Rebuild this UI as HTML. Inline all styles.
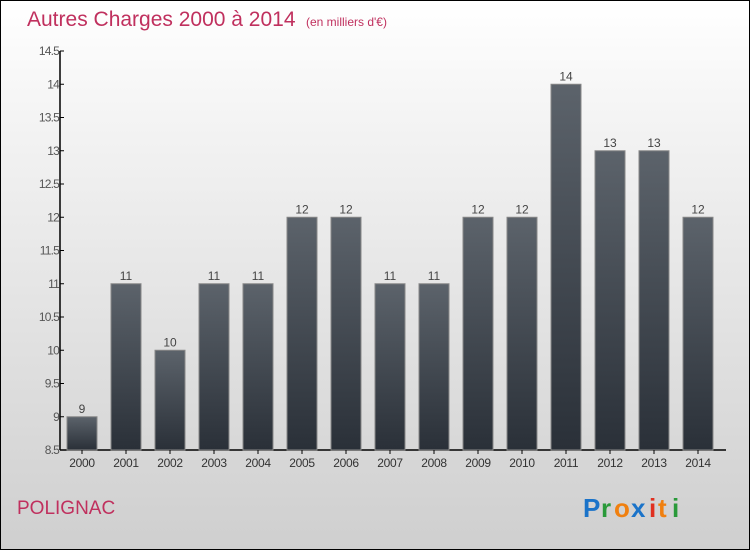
<!DOCTYPE html>
<html><head><meta charset="utf-8"><style>
body{margin:0;width:750px;height:550px;overflow:hidden}
#wrap{position:relative;width:748px;height:548px;border:1px solid #000;background:linear-gradient(#fff,#f2f2f2 25%,#cfcfcf)}
text{font-family:"Liberation Sans",sans-serif}
</style></head><body>
<div id="wrap">
<svg id="c" width="748" height="548">
<defs><linearGradient id="g" x1="0" y1="0" x2="0" y2="1"><stop offset="0" stop-color="#5c636b"/><stop offset="1" stop-color="#2a3038"/></linearGradient></defs>
<text x="26" y="25" font-size="21" fill="#c0305e">Autres Charges 2000 à 2014</text>
<text x="305" y="25" font-size="12" fill="#c0305e">(en milliers d'€)</text>
<text x="16" y="513" font-size="19" fill="#c0305e">POLIGNAC</text>
<g font-size="26" font-weight="bold">
<text x="582" y="516" fill="#1a73c9">P</text><text x="600" y="516" fill="#2a9a3a">r</text><text x="613" y="516" fill="#f08010">o</text><text x="630" y="516" fill="#1a73c9">x</text><text x="648" y="516" fill="#e03020">i</text><text x="657" y="516" fill="#f08010">t</text><text x="671" y="516" fill="#2a9a3a">i</text>
</g>
<g id="plot"></g>
</svg>
</div>
<script>
const categories=["2000","2001","2002","2003","2004","2005","2006","2007","2008","2009","2010","2011","2012","2013","2014"];
const values=[9,11,10,11,11,12,12,11,11,12,12,14,13,13,12];
const labels=["9","11","10","11","11","12","12","11","11","12","12","14","13","13","12"];
const ticks=[8.5,9,9.5,10,10.5,11,11.5,12,12.5,13,13.5,14,14.5];
const tickLabels=["8.5","9","9.5","10","10.5","11","11.5","12","12.5","13","13.5","14","14.5"];
const ns="http://www.w3.org/2000/svg";
const g=document.getElementById('plot');
const y=v=>449-(v-8.5)*66.5;
const x=i=>81+44*i;
function el(t,a,txt){const e=document.createElementNS(ns,t);for(const k in a)e.setAttribute(k,a[k]);if(txt!==undefined)e.textContent=txt;g.appendChild(e);return e;}
let e;
e=el('line',{x1:59,y1:y(14.5),x2:59,y2:449,stroke:'#000','stroke-width':1.5});


e=el('line',{x1:59,y1:449,x2:725,y2:449,stroke:'#000','stroke-width':1.5});


ticks.forEach((t,i)=>{
 el('line',{x1:59,y1:y(t),x2:63,y2:y(t),stroke:'#000'});
 e=el('text',{x:58,y:y(t)+4,'font-size':12,fill:'#555','text-anchor':'end','letter-spacing':'-0.8'},tickLabels[i]);
 
 
});
values.forEach((v,i)=>{
 const cx=x(i);
 e=el('rect',{x:cx-15,y:y(v),width:30,height:449-y(v),fill:'url(#g)',stroke:'#888','stroke-width':1});
 
 
 e=el('text',{x:cx,y:y(v)-4,'font-size':12,fill:'#444','text-anchor':'middle'},labels[i]);
 
 
 el('line',{x1:cx,y1:449,x2:cx,y2:453,stroke:'#000'});
 e=el('text',{x:cx,y:466,'font-size':12,fill:'#333','text-anchor':'middle','letter-spacing':'-0.3'},categories[i]);
 
 
});
</script>
</body></html>
